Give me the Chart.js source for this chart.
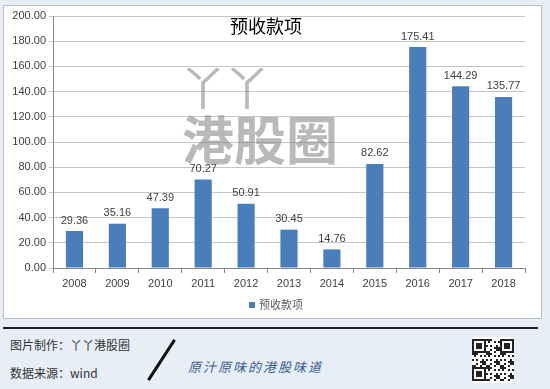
<!DOCTYPE html>
<html>
<head>
<meta charset="utf-8">
<script src="https://cdn.jsdelivr.net/npm/chart.js@4"></script>
<style>
  body { margin: 0; width: 550px; height: 389px; background: #e7eef6; position: relative; overflow: hidden;
         font-family: "Noto Sans CJK SC", "DejaVu Sans", sans-serif; }
  #box { position: absolute; left: 3px; top: 5px; width: 537px; height: 312px; background: #fff;
         border: 1px solid #b9bec5; }
  #chart { position: absolute; left: 0; top: 0; }
  .wm { position: absolute; color: rgba(128,128,128,0.55); pointer-events: none; white-space: nowrap; }
  #rule { position: absolute; left: 3px; top: 327px; width: 535px; height: 2px; background: #1f1f1f; }
  .foot { position: absolute; font-size: 12px; color: #333; }
  #slash { position: absolute; left: 160px; top: 336px; width: 3px; height: 48px; background: #111;
           transform: rotate(33deg); }
  #motto { position: absolute; left: 188px; top: 357px; font-size: 13px; color: #3d5f95; font-style: italic;
           letter-spacing: 2px; }
  #qr { position: absolute; left: 472px; top: 337px; }
</style>
</head>
<body>
<div id="box"><canvas id="chart" width="537" height="312"></canvas></div>
<div class="wm" style="left:180px;top:52px;font-size:46px;letter-spacing:-2px;">丫丫</div>
<div class="wm" style="left:182px;top:100px;font-size:52px;font-weight:bold;">港股圈</div>
<div id="rule"></div>
<div class="foot" style="left:10px;top:336px;">图片制作：丫丫港股圈</div>
<div class="foot" style="left:10px;top:364px;">数据来源：wind</div>
<div id="slash"></div>
<div id="motto">原汁原味的港股味道</div>
<canvas id="qr" width="42" height="46"></canvas>
<script>
// Chart data
const years = ["2008", "2009", "2010", "2011", "2012", "2013", "2014", "2015", "2016", "2017", "2018"];
const advances = [29.36, 35.16, 47.39, 70.27, 50.91, 30.45, 14.76, 82.62, 175.41, 144.29, 135.77];
const seriesName = "预收款项";
const chartTitle = "预收款项";

const barColor = "#4a7ebb";

// value labels above each bar
const valueLabels = {
  id: "valueLabels",
  afterDatasetsDraw(chart) {
    const ctx = chart.ctx;
    const meta = chart.getDatasetMeta(0);
    ctx.save();
    ctx.font = "11px 'Liberation Sans', sans-serif";
    ctx.fillStyle = "#404040";
    ctx.textAlign = "center";
    ctx.textBaseline = "bottom";
    meta.data.forEach((bar, i) => {
      ctx.fillText(advances[i].toFixed(2), bar.x, bar.y - 5);
    });
    ctx.restore();
  },
};

// title over the plot area and legend under the axis, like in Excel
const overlayText = {
  id: "overlayText",
  afterDraw(chart) {
    const ctx = chart.ctx;
    const area = chart.chartArea;
    ctx.save();
    ctx.font = "18px 'Noto Sans CJK SC', sans-serif";
    ctx.fillStyle = "#000";
    ctx.textAlign = "center";
    ctx.textBaseline = "middle";
    ctx.fillText(chartTitle, 262, 20);

    // legend
    const ly = area.bottom + 37;
    ctx.fillStyle = barColor;
    ctx.fillRect(245, ly - 3, 6, 6);
    ctx.font = "11px 'Noto Sans CJK SC', sans-serif";
    ctx.fillStyle = "#595959";
    ctx.textAlign = "left";
    ctx.fillText(seriesName, 255, ly);
    ctx.restore();
  },
};

new Chart(document.getElementById("chart"), {
  type: "bar",
  data: {
    labels: years,
    datasets: [
      {
        label: seriesName,
        data: advances,
        backgroundColor: barColor,
        barPercentage: 0.8,
        categoryPercentage: 0.5,
      },
    ],
  },
  options: {
    responsive: false,
    animation: false,
    layout: { padding: { top: 10, right: 16, bottom: 26, left: 0 } },
    plugins: {
      legend: { display: false },
      tooltip: { enabled: false },
    },
    scales: {
      x: {
        afterFit: (scale) => { scale.height = 24; },
        grid: { offset: true, drawOnChartArea: false, tickLength: 5, color: "#868686" },
        border: { color: "#868686" },
        ticks: { color: "#404040", font: { size: 11, family: "'Liberation Sans', sans-serif" }, padding: 4 },
      },
      y: {
        min: 0,
        max: 200,
        afterFit: (scale) => { scale.width = 49; },
        grid: { color: "#c6c6c6", tickLength: 4 },
        border: { color: "#868686" },
        ticks: {
          stepSize: 20,
          color: "#404040",
          font: { size: 11, family: "'Liberation Sans', sans-serif" },
          callback: (v) => v.toFixed(2),
        },
      },
    },
  },
  plugins: [valueLabels, overlayText],
});

// little QR-like badge in the footer
const q = document.getElementById("qr").getContext("2d");
const n = 21, cell = 2;
function finder(x, y) {
  q.fillStyle = "#222"; q.fillRect(x * cell, y * cell, 7 * cell, 7 * cell);
  q.fillStyle = "#fff"; q.fillRect((x + 1) * cell, (y + 1) * cell, 5 * cell, 5 * cell);
  q.fillStyle = "#222"; q.fillRect((x + 2) * cell, (y + 2) * cell, 3 * cell, 3 * cell);
}
q.fillStyle = "#fff";
q.fillRect(0, 0, 42, 46);
for (let r = 0; r < n; r++) {
  for (let c = 0; c < n; c++) {
    const h = (r * 131 + c * 71 + r * c * 17) % 7;
    if (h < 3) { q.fillStyle = "#222"; q.fillRect(c * cell, r * cell + 2, cell, cell); }
  }
}
finder(0, 1); finder(14, 1); finder(0, 15);
</script>
</body>
</html>
